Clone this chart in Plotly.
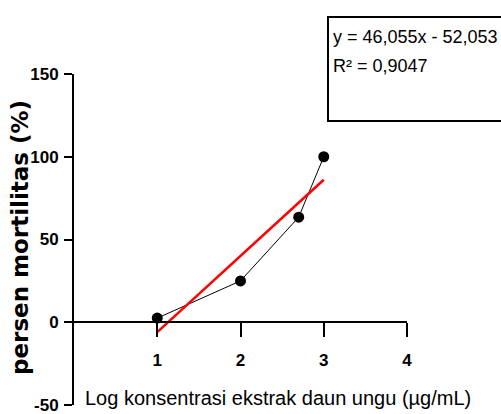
import plotly.graph_objects as go

# Data
log_conc = [1.0, 2.0, 2.699, 3.0]
mortality = [2.5, 25.0, 63.5, 100.0]
slope = 46.055
intercept = -52.053
r2_text = "0,9047"
eq_text = "y = 46,055x - 52,053"
x_ticks = [1, 2, 3, 4]
y_ticks = [-50, 0, 50, 100, 150]
y_tick_labels = ["-50", "0", "50", "100", "150"]

trend_x = [min(log_conc), max(log_conc)]
trend_y = [slope * v + intercept for v in trend_x]

SANS = "Liberation Sans, Arial, sans-serif"

fig = go.Figure()
fig.add_trace(go.Scatter(
    x=log_conc, y=mortality, mode="lines+markers",
    line=dict(color="black", width=1),
    marker=dict(color="black", size=11),
    showlegend=False, cliponaxis=False))
fig.add_trace(go.Scatter(
    x=trend_x, y=trend_y, mode="lines",
    line=dict(color="#ff0000", width=2.5),
    showlegend=False, cliponaxis=False))

fig.update_layout(
    width=501, height=414,
    margin=dict(l=74, r=94, t=74, b=9),
    paper_bgcolor="white", plot_bgcolor="white",
    xaxis=dict(range=[0, 4], tickvals=x_ticks, showgrid=False, zeroline=False,
               showline=True, linecolor="black", linewidth=2, automargin=False,
               ticks="outside", ticklen=14, tickwidth=2, tickcolor="black",
               anchor="free", position=0.25, ticklabelstandoff=8,
               tickfont=dict(family=SANS, size=17, color="black", weight="bold")),
    yaxis=dict(range=[-50, 150], tickvals=y_ticks, ticktext=y_tick_labels,
               showgrid=False, zeroline=False, automargin=False,
               showline=True, linecolor="black", linewidth=2,
               ticks="outside", ticklen=8, tickwidth=2, tickcolor="black",
               ticklabelstandoff=2, ticklabeloverflow="allow",
               tickfont=dict(family=SANS, size=17, color="black", weight="bold")),
)

# equation box
fig.add_shape(type="rect", xref="paper", yref="paper",
              x0=(328 - 74) / 333, x1=1.4, y0=(405 - 121) / 331, y1=(405 - 17) / 331,
              line=dict(color="black", width=2), fillcolor="white", layer="above")

fig.add_annotation(xref="paper", yref="paper", x=(331 - 74) / 333, y=(405 - 37) / 331,
                   xanchor="left", yanchor="middle", showarrow=False, text=eq_text,
                   font=dict(family=SANS, size=18, color="black"))
fig.add_annotation(xref="paper", yref="paper", x=(331 - 74) / 333, y=(405 - 66) / 331,
                   xanchor="left", yanchor="middle", showarrow=False,
                   text="R² = " + r2_text,
                   font=dict(family=SANS, size=18, color="black"))

# axis titles
fig.add_annotation(xref="paper", yref="paper", x=(83 - 74) / 333, y=(405 - 398) / 331,
                   xanchor="left", yanchor="middle", showarrow=False,
                   text="Log konsentrasi ekstrak daun ungu (µg/mL)",
                   font=dict(family=SANS, size=20, color="black"))
fig.add_annotation(xref="paper", yref="paper", x=(20 - 74) / 333, y=(405 - 238) / 331,
                   xanchor="center", yanchor="middle", showarrow=False, textangle=-90,
                   text="persen mortilitas (%)",
                   font=dict(family="DejaVu Sans, sans-serif", size=23,
                             color="black", weight="bold"))

fig.write_html("out.html")
